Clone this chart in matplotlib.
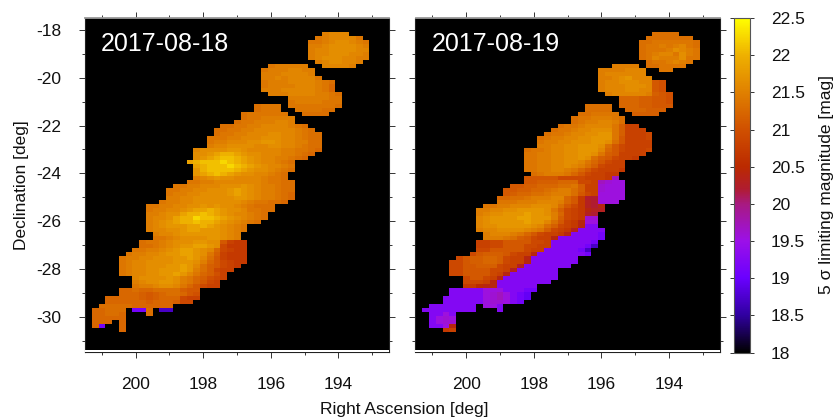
# Limiting magnitude maps for two nights

import numpy as np
import matplotlib
matplotlib.use("Agg")
import matplotlib.pyplot as plt
from matplotlib.colors import LinearSegmentedColormap, Normalize

plt.rcParams['font.family'] = ['Liberation Sans', 'DejaVu Sans']
plt.rcParams['axes.unicode_minus'] = False

# one character per cell, see LEVEL_CHARS / LEVEL_MAGS
LEVEL_CHARS = "QOPRSTUabcdefghij0123456789ABCD"
LEVEL_MAGS = [18.7, 18.95, 19.1, 19.25, 19.55, 19.6, 19.7,
              20.0, 20.1, 20.2, 20.3, 20.4, 20.5, 20.6, 20.7, 20.8, 20.9,
              21.0, 21.08, 21.16, 21.24, 21.32, 21.4, 21.48, 21.56, 21.64, 21.72,
              21.85, 22.0, 22.1, 22.25]

# first row of the lists below, and first column of each row
FIRST_ROW = 4

STARTS_0818 = [35, 34, 33, 33, 33, 33, 33, 34, 27, 26, 26, 26, 26, 26, 26, 27, 30, 30, 25, 25,
               23, 23, 22, 20, 19, 19, 18, 18, 18, 16, 16, 16, 15, 16, 16, 16, 16, 15, 13, 12,
               12, 12, 11, 9, 9, 9, 9, 9, 9, 9, 10, 10, 8, 8, 7, 6, 5, 5, 5, 5,
               5, 7, 7, 7, 5, 5, 3, 3, 2, 1, 1, 1, 1, 1, 5]
CELLS_0818 = [
    "6777", "5677775", "556788765", "667888876", "677888877", "677888776", "678887766",
    "6788776", "566666..77776", "56667766", "66677776", "667677775", "56667777654",
    "56666777653", "66677777653", "66677776654", "66666655", "56666555",
    "4555.55555554", "4555..555544", "4555555..4444", "45566666", "455666776",
    "4455667777654", "445566777777654", "4556677788776544", "55566777888776544",
    "56677788998776644", "67788887788776544", "7888899877777665543",
    "889ABBA98877766543", "89ABCCBA987766543", "ABCCCDCBA9877654", "ABCCCDCBA987765",
    "9BCCCCBA9887654", "9ABCBA98877654", "67898877776554", "5566777777765544",
    "556677788898766544", "5566778889A98766544", "5667788889A98766543",
    "6677888888998766543", "5667788888887655443", "5566778898988765444",
    "5667789AABA98875544", "66788ABBCBA9877654", "6778ABBDCCBA987654", "6789ABBCBBA987654",
    "678999AABA98765", "677889AA9998765", "6778999999876", "5567888899876",
    "4556788899881ihh", "44567899AA98jhhh", "5566789AA9873jihh", "56677899AA9852ihhh",
    "5667788899A9741ihhh", "567788889998631jihh", "567788899A97421jih", "567788999A9642jii",
    "56778899A975320i", "788889865320ji", "67889986531ji", "5667887531jii",
    "334334444211", "333212344310", "33333212333jii", "33333323332jj", "44444333333",
    "33444.PP4.QQ", "33443...4", "33333", "333.3", "3P..3", "3",
]

STARTS_0819 = [35, 34, 33, 33, 33, 33, 33, 34, 29, 27, 27, 27, 27, 27, 27, 28, 30, 30, 25, 25,
               24, 23, 23, 21, 20, 19, 18, 18, 18, 16, 16, 16, 16, 16, 16, 17, 16, 16, 14, 13,
               13, 12, 12, 10, 9, 9, 9, 9, 9, 9, 10, 10, 9, 9, 9, 8, 6, 5, 5, 5,
               5, 7, 7, 7, 5, 5, 4, 4, 2, 1, 2, 2, 2, 2, 4]
CELLS_0819 = [
    "4444", "4444444", "445555554", "455656754", "455568765", "456775865", "457666855",
    "4556765", "6666.445555", "6666777..55", "6777777", "66789777", "6778887710",
    "6777888710", "6777887710", "6777776210", "33322110", "33322110",
    "4444.33322111", "4444..333222", "445555..2222", "45566654", "45667764",
    "4556777752ii", "45567788852iii", "455677889952iiij", "4566778899951iiij",
    "5667788899841iiii", "667788999841jiiii", "45567788999731jiiij", "55667788998521iiii",
    "5566778898421jiih", "556677887531jii", "55667787642jiii", "5566776531jiiih",
    "45666531jiihh", "11111jjjjiiihU", "11222333jjiUTSS", "11223334452iiTSSS",
    "112233456642iiTSSS", "123344566641jiSSSS", "334456667731hccSSSS", "555666777631hdcSSS",
    "5566777888741jhdce", "6677889999852jihedd", "6788999A99863jihdc", "789999AA99962jihTT",
    "7899999A99741iheSS", "788999998742jiheRR", "67788887652jihdRRRR", "67776531jiiheRRRRP",
    "6665421jiieRRRRRRP", "iijj1111jjiRRRRRRP", "iijj111jjiiRRRRRPQ", "jj11111jiiRRRRRPQ",
    "j12221jiieRRRRRRRP", "j122332jiieRRRRRRR", "jj122332jiieRRRRRRR", "jj11222jiidRRRRRRR",
    "jj1111jjidRRRRRR", "jj1111jieRRRRRRR", "j11jieRRRRRRRR", "jjjieRRRRRRRR",
    "hhfeeRRRRRR", "RRRRRSSSRRRPP", "RRRRRSTUSRPO", "RRRRRRSTUSRPO", "RRRRRRSTTSRP",
    "RRRRRRR.SSR", "RRRRRRRR...R", "RRSR", "RSTS", "RSTT", "RRSe", "hi",
]

DATES = ["2017-08-18", "2017-08-19"]

RA_TICKS = [200, 198, 196, 194]
RA_MINOR = [201, 199, 197, 195, 193]
DEC_TICKS = [-18, -20, -22, -24, -26, -28, -30]
DEC_MINOR = [-19, -21, -23, -25, -27, -29, -31]

CB_TICKS = [18, 18.5, 19, 19.5, 20, 20.5, 21, 21.5, 22, 22.5]
CB_LABELS = ["18", "18.5", "19", "19.5", "20", "20.5", "21", "21.5", "22", "22.5"]
PALETTE_MAGS = [18, 18.5, 19, 19.5, 20, 20.2, 20.5, 21, 21.5, 22, 22.2, 22.5]
PALETTE_COLORS = ["#000000", "#3000a0", "#6a00ff", "#9c10e8", "#a81a80", "#b01c30",
                  "#bb2a00", "#d05000", "#e08000", "#eeb000", "#f6cf00", "#ffff00"]

N_ROWS = 84
N_COLS = 45
RA_EDGE, RA_STEP = 201.5, 0.2004
DEC_EDGE, DEC_STEP = -17.4, 0.1674


def to_grid(starts, cells):
    grid = np.full((N_ROWS, N_COLS), np.nan)
    lookup = dict(zip(LEVEL_CHARS, LEVEL_MAGS))
    for row, (start, text) in enumerate(zip(starts, cells)):
        for col, ch in enumerate(text):
            if ch != ".":
                grid[FIRST_ROW + row, start + col] = lookup[ch]
    return grid


W, H = 837, 419


def px_axes(fig, left, top, right, bottom):
    return fig.add_axes([left / W, 1 - bottom / H, (right - left) / W, (bottom - top) / H])


fig = plt.figure(figsize=(W / 100, H / 100), dpi=100)
span = PALETTE_MAGS[-1] - PALETTE_MAGS[0]
cmap = LinearSegmentedColormap.from_list(
    "limmag", [((m - PALETTE_MAGS[0]) / span, c) for m, c in zip(PALETTE_MAGS, PALETTE_COLORS)], N=512)
norm = Normalize(18, 22.5)

ra_edges = RA_EDGE - RA_STEP * np.arange(N_COLS + 1)
dec_edges = DEC_EDGE - DEC_STEP * np.arange(N_ROWS + 1)

panels = [(85, 389, STARTS_0818, CELLS_0818), (415.5, 719.5, STARTS_0819, CELLS_0819)]
for i, (left, right, starts, cells) in enumerate(panels):
    ax = px_axes(fig, left, 18, right, 352)
    ax.set_facecolor('black')
    mesh = ax.pcolormesh(ra_edges, dec_edges, to_grid(starts, cells), cmap=cmap, norm=norm,
                         antialiased=False, linewidth=0)
    ax.set_xlim(201.5, 192.5)
    ax.set_ylim(-31.475, -17.5)
    # thin white strip between the map and the bottom axis
    ax.axhspan(-31.475, -31.39, color='white', zorder=3, lw=0)

    ax.set_xticks(RA_TICKS)
    ax.set_xticks(RA_MINOR, minor=True)
    ax.set_yticks(DEC_TICKS)
    ax.set_yticks(DEC_MINOR, minor=True)
    ax.tick_params(which='major', direction='out', length=4.3, width=0.7, color='#333333',
                   top=True, right=True, labelsize=12.5, labelcolor='#111111')
    ax.tick_params(which='minor', direction='out', length=2.5, width=0.7, color='#333333',
                   top=True, right=True)
    ax.tick_params(axis='x', which='major', pad=14)
    ax.tick_params(axis='y', which='major', pad=13)
    for spine in ax.spines.values():
        spine.set_edgecolor('#222222')
        spine.set_linewidth(0.8)
    ax.spines['top'].set_edgecolor('#999999')
    ax.spines['top'].set_linewidth(1.3)
    if i > 0:
        ax.tick_params(axis='y', labelleft=False)
    else:
        ax.set_ylabel("Declination [deg]", fontsize=12.5, color='#111111', labelpad=5)
    ax.text(0.052, 0.922, DATES[i], transform=ax.transAxes, color='white', fontsize=18, va='center')

fig.text(404 / W, 1 - 409 / H, "Right Ascension [deg]", fontsize=12.5, color='#111111',
         ha='center', va='center')

cax = px_axes(fig, 734.5, 18, 750, 352.5)
cb = fig.colorbar(mesh, cax=cax)
cb.set_ticks(CB_TICKS, labels=CB_LABELS)
cax.minorticks_off()
cax.tick_params(direction='out', length=3, width=0.7, color='#333333', left=True, right=True,
                labelsize=12.5, labelcolor='#111111', pad=12)
cb.outline.set_edgecolor('#555555')
cb.outline.set_linewidth(0.8)
fig.text(827 / W, 1 - 184 / H, "5 σ limiting magnitude [mag]", fontsize=12.5, color='#111111',
         rotation=90, ha='center', va='center')

fig.savefig("out.png", dpi=100)
